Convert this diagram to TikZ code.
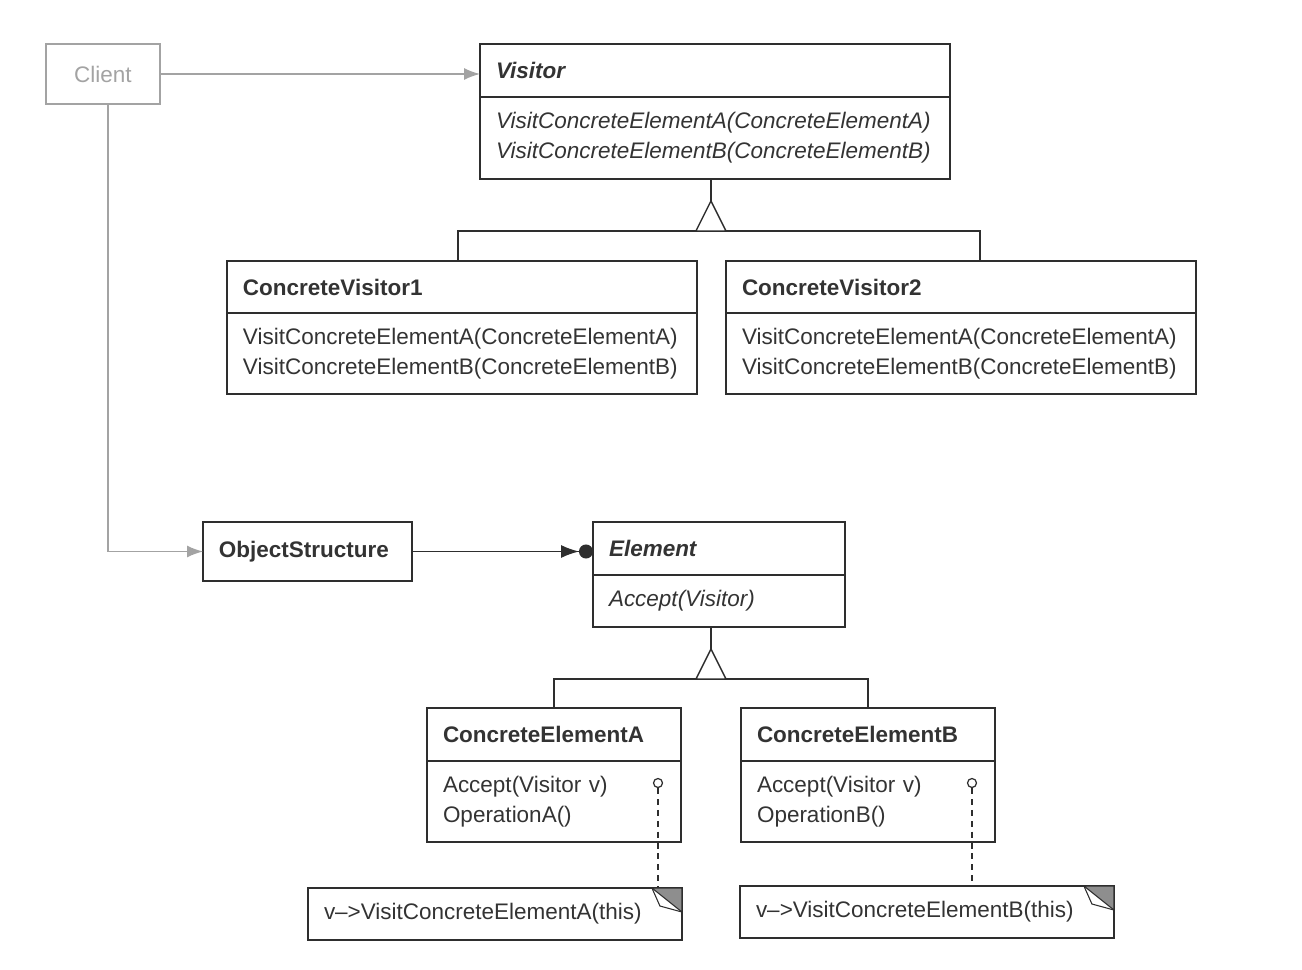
\documentclass[tikz,border=0pt]{standalone}
\usepackage{fontspec}
\setmainfont{Liberation Sans}
\usetikzlibrary{arrows.meta,positioning,calc}
\definecolor{LineDark}{HTML}{2E2E2E}
\definecolor{InkGray}{HTML}{333333}
\definecolor{ClientGray}{HTML}{A3A3A3}
\definecolor{FoldGray}{HTML}{8E8E8E}

\begin{document}
\begin{tikzpicture}[
    x=0.02cm, y=-0.02cm,
    font=\fontsize{12.8}{17}\selectfont, % 类名与方法统一字号
    box/.style={draw=LineDark, line width=0.8pt, anchor=north west, align=left, inner xsep=0.32cm, inner ysep=0pt, outer sep=0pt, text=InkGray},
    wide/.style={box, text width=8.76cm},
    mid/.style={box, text width=4.44cm},
    client/.style={draw=ClientGray, line width=0.8pt, anchor=north west, align=center, text=ClientGray, minimum width=2.28cm, minimum height=1.2cm, inner sep=0pt, outer sep=0pt},
    note/.style={box, text width=6.84cm, minimum height=1.04cm},
    gen/.style={draw=LineDark, line width=0.8pt},
    garr/.style={-{Latex[length=0.32cm, width=0.24cm]}, color=ClientGray, line width=0.8pt},
    agg/.style={-{Latex[length=0.36cm, width=0.26cm]Circle[length=0.28cm]}, color=LineDark, line width=0.8pt},
    dep/.style={draw=LineDark, line width=0.8pt, dash pattern=on 3.4pt off 2.8pt},
    lol/.style={circle, draw=LineDark, line width=0.7pt, fill=white, minimum size=0.18cm, inner sep=0pt}
]
\useasboundingbox (0,0) rectangle (1302,970);

% 第一行：Client 与抽象 Visitor
\node[client] (client) at (46,44) {Client};
\node[wide, minimum height=1.06cm] (vhead) at (480,44) {\textbf{\textit{Visitor}}};
\node[wide, minimum height=1.64cm] (vbody) at (vhead.south west) {\textit{VisitConcreteElementA(ConcreteElementA)}\\\textit{VisitConcreteElementB(ConcreteElementB)}};

% 第二行：两个具体访问者
\node[wide, minimum height=1.04cm] (cv1head) at (227,261) {\textbf{ConcreteVisitor1}};
\node[wide, minimum height=1.62cm] (cv1body) at (cv1head.south west) {VisitConcreteElementA(ConcreteElementA)\\VisitConcreteElementB(ConcreteElementB)};
\node[wide, minimum height=1.04cm] (cv2head) at (726,261) {\textbf{ConcreteVisitor2}};
\node[wide, minimum height=1.62cm] (cv2body) at (cv2head.south west) {VisitConcreteElementA(ConcreteElementA)\\VisitConcreteElementB(ConcreteElementB)};

% 第三行：ObjectStructure 与抽象 Element
\node[box, text width=3.54cm, minimum height=1.18cm] (objstr) at (203,522) {\textbf{ObjectStructure}};
\node[box, text width=4.40cm, minimum height=1.06cm] (ehead) at (593,522) {\textbf{\textit{Element}}};
\node[box, text width=4.40cm, minimum height=1.04cm] (ebody) at (ehead.south west) {\textit{Accept(Visitor)}};

% 第四行：具体元素
\node[mid, minimum height=1.06cm] (ceahead) at (427,708) {\textbf{ConcreteElementA}};
\node[mid, minimum height=1.62cm] (ceabody) at (ceahead.south west) {Accept(Visitor v)\\OperationA()};
\node[mid, minimum height=1.06cm] (cebhead) at (741,708) {\textbf{ConcreteElementB}};
\node[mid, minimum height=1.62cm] (cebbody) at (cebhead.south west) {Accept(Visitor v)\\OperationB()};

% 注释框
\node[note] (noteA) at (308,888) {v-->VisitConcreteElementA(this)};
\node[note] (noteB) at (740,886) {v-->VisitConcreteElementB(this)};

% Client 的关联箭头
\draw[garr] (client.east) -- (client.east -| vhead.west);
\draw[garr] ([xshift=0.1cm]client.south) |- (objstr.west);
\draw[agg] (objstr.east) -- (objstr.east -| ehead.west);

% 继承：Visitor
\coordinate (vbar) at ($(vbody.south)+(-4,52)$);
\draw[gen] (vbar |- vbody.south) -- (vbar);
\draw[gen] ([xshift=-0.08cm]cv1head.north) |- (vbar) -| ([xshift=0.38cm]cv2head.north);
\filldraw[gen, fill=white] ($(vbar)+(-15,0)$) -- ($(vbar)+(0,-30)$) -- ($(vbar)+(15,0)$) -- cycle;

% 继承：Element
\coordinate (ebar) at ($(ebody.south)+(-8,52)$);
\draw[gen] (ebar |- ebody.south) -- (ebar);
\draw[gen] (ceahead.north) |- (ebar) -| (cebhead.north);
\filldraw[gen, fill=white] ($(ebar)+(-15,0)$) -- ($(ebar)+(0,-30)$) -- ($(ebar)+(15,0)$) -- cycle;

% Accept 到注释的虚线
\node[lol] (lolA) at (658,783) {};
\node[lol] (lolB) at (972,783) {};
\draw[dep] (lolA.south) -- (lolA.south |- noteA.north);
\draw[dep] (lolB.south) -- (lolB.south |- noteB.north);

% 注释框折角
\draw[LineDark, line width=0.6pt, fill=white] ($(noteA.north east)+(-30,0)$) -- ($(noteA.north east)+(-22,18)$) -- ($(noteA.north east)+(0,24)$);
\filldraw[draw=LineDark, fill=FoldGray, line width=0.6pt] ($(noteA.north east)+(-30,0)$) -- (noteA.north east) -- ($(noteA.north east)+(0,24)$) -- cycle;
\draw[LineDark, line width=0.6pt, fill=white] ($(noteB.north east)+(-30,0)$) -- ($(noteB.north east)+(-22,18)$) -- ($(noteB.north east)+(0,24)$);
\filldraw[draw=LineDark, fill=FoldGray, line width=0.6pt] ($(noteB.north east)+(-30,0)$) -- (noteB.north east) -- ($(noteB.north east)+(0,24)$) -- cycle;

\end{tikzpicture}
\end{document}
